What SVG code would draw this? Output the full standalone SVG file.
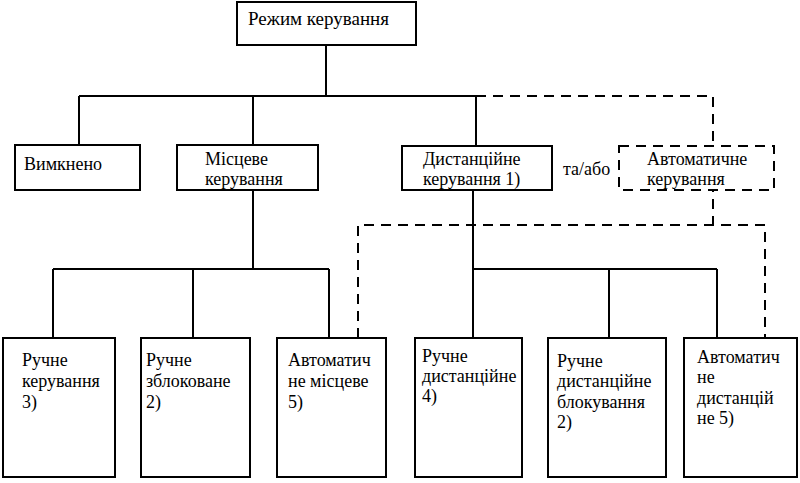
<svg xmlns="http://www.w3.org/2000/svg" width="800" height="483" viewBox="0 0 800 483">
<style>
.box{fill:#fff;stroke:#000;stroke-width:2}
.dbox{fill:#fff;stroke:#000;stroke-width:2;stroke-dasharray:10 7}
.ln{fill:none;stroke:#000;stroke-width:2}
.dl{fill:none;stroke:#000;stroke-width:2;stroke-dasharray:10 7}
text{font-family:"Liberation Serif","Times New Roman",serif;font-size:18px;fill:#000}
.big{font-size:19px}
</style>
<rect width="800" height="483" fill="#fff"/>
<g id="connectors">
<path class="ln" d="M326 45V96M79 96H476M79 96V145M253 96V145M476 96V146"/>
<path class="dl" d="M476 96H713V225"/>
<path class="ln" d="M253 190V269M53 269H329M53 269V338M193 269V338M329 269V338"/>
<path class="ln" d="M473 190V338M473 269H717M609 269V338M717 269V338"/>
<path class="dl" d="M358 338V225H765V338"/>
</g>
<g id="n-root"><rect class="box" x="237" y="2" width="179" height="43"/><text class="big" x="248" y="25">Режим керування</text></g>
<g id="n-off"><rect class="box" x="15" y="145" width="125" height="45"/><text x="24" y="170">Вимкнено</text></g>
<g id="n-local"><rect class="box" x="177" y="145" width="141" height="45"/><text x="205" y="165">Місцеве</text><text x="205" y="185">керування</text></g>
<g id="n-remote"><rect class="box" x="402" y="146" width="150" height="44"/><text x="423" y="165">Дистанційне</text><text x="423" y="185">керування 1)</text></g>
<g id="n-andor"><text x="563" y="175">та/або</text></g>
<g id="n-auto"><rect class="dbox" x="619" y="146" width="155" height="44"/><text x="647" y="165">Автоматичне</text><text x="647" y="185">керування</text></g>
<g id="n-b1"><rect class="box" x="3" y="338" width="112" height="139"/><text x="22" y="366">Ручне</text><text x="22" y="387">керування</text><text x="22" y="408">3)</text></g>
<g id="n-b2"><rect class="box" x="141" y="338" width="109" height="139"/><text x="146" y="366">Ручне</text><text x="146" y="387">зблоковане</text><text x="146" y="408">2)</text></g>
<g id="n-b3"><rect class="box" x="277" y="338" width="109" height="139"/><text x="288" y="366">Автоматич</text><text x="288" y="387">не місцеве</text><text x="288" y="408">5)</text></g>
<g id="n-b4"><rect class="box" x="415" y="338" width="107" height="139"/><text x="422" y="362">Ручне</text><text x="422" y="382">дистанційне</text><text x="422" y="402">4)</text></g>
<g id="n-b5"><rect class="box" x="548" y="338" width="118" height="139"/><text x="557" y="367">Ручне</text><text x="557" y="387">дистанційне</text><text x="557" y="408">блокування</text><text x="557" y="428">2)</text></g>
<g id="n-b6"><rect class="box" x="684" y="338" width="113" height="139"/><text x="697" y="363">Автоматич</text><text x="697" y="383">не</text><text x="697" y="404">дистанцій</text><text x="697" y="424">не 5)</text></g>
</svg>
